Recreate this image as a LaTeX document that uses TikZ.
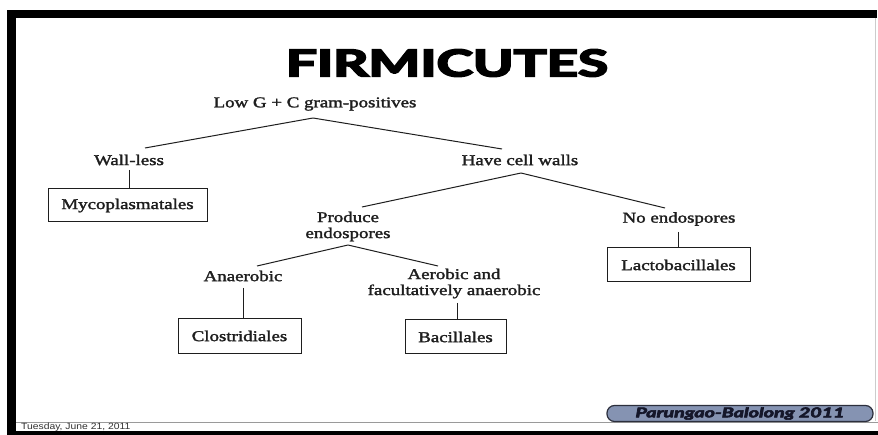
\documentclass[tikz,border=0pt]{standalone}
\usepackage{fontspec}
\usepackage{graphicx}
\setmainfont{Liberation Serif}
\newfontfamily\titlefont{Lato}
\newfontfamily\datefont{Liberation Sans}
\definecolor{inkc}{HTML}{1E1E1E}
\definecolor{pillfill}{HTML}{8593B2}
\definecolor{pilldraw}{HTML}{2C2F3C}
\definecolor{pilltext}{HTML}{15172A}
\definecolor{footline}{HTML}{9A9A9A}
\newcommand{\heavy}[2]{\special{pdf:literal direct 2 Tr #1 w}#2\special{pdf:literal direct 0 Tr}}
\newcommand{\sx}[1]{\scalebox{1.26}[1]{\heavy{0.25}{#1}}}
\tikzset{
  lbl/.style={inner sep=0pt, text=inkc, font=\fontsize{15}{15}\selectfont, align=center},
  taxbox/.style={draw=inkc, line width=1pt, inner sep=0pt, text=inkc,
     font=\fontsize{15}{15}\selectfont},
  branch/.style={draw=inkc, line width=1pt}
}
\begin{document}
\begin{tikzpicture}[x=1pt,y=-1pt]
\useasboundingbox (0,0) rectangle (878,435);
\fill[white] (0,0) rectangle (878,435);
% frame
\fill[black] (7,10) rectangle (877,18);
\fill[black] (7,10) rectangle (16,435);
\fill[black] (7,431) rectangle (878,435);
\draw[footline, line width=1pt] (16,422) -- (878,422);
\draw[black!20, line width=0.6pt] (875,18) -- (875,421);
% title
\node (title) at (447,63) {\resizebox{322pt}{27pt}{\titlefont\bfseries\heavy{0.45}{FIRMICUTES}}};
% labels
\node[lbl] (low) at (315,104) {\sx{Low G + C gram-positives}};
\node[lbl] (wall) at (129,160) {\sx{Wall-less}};
\node[lbl] (have) at (520,160) {\sx{Have cell walls}};
\node[lbl] (prod) at (348,226.5) {\sx{Produce}\\[1pt]\sx{endospores}};
\node[lbl] (noendo) at (679,219) {\sx{No endospores}};
\node[lbl] (anaer) at (243,276) {\sx{Anaerobic}};
\node[lbl] (aer) at (454,283.5) {\sx{Aerobic and}\\[1pt]\sx{facultatively anaerobic}};
% boxes
\node[taxbox, minimum width=159pt, minimum height=33pt] (myco) at (127.5,205.5) {\sx{Mycoplasmatales}};
\node[taxbox, minimum width=143pt, minimum height=34pt] (lacto) at (678.5,265) {\sx{Lactobacillales}};
\node[taxbox, minimum width=123pt, minimum height=35pt] (clos) at (239.5,336) {\sx{Clostridiales}};
\node[taxbox, minimum width=101pt, minimum height=34pt] (baci) at (455.5,337) {\sx{Bacillales}};
% connector end points
\coordinate (lowB) at (313,118);
\coordinate (wallT) at (145,148);
\coordinate (haveT) at (502,149);
\coordinate (haveB) at (521,173);
\coordinate (prodT) at (362,207);
\coordinate (noT) at (665,208);
\coordinate (prodB) at (348,245);
\coordinate (anT) at (257,266);
\coordinate (aerT) at (438,266);
\coordinate (wallB) at (129,170);
\coordinate (noB) at (678,232);
\coordinate (anB) at (243,288);
\coordinate (aerB) at (457,303);
% connectors
\draw[branch] (lowB) -- (wallT);
\draw[branch] (lowB) -- (haveT);
\draw[branch] (haveB) -- (prodT);
\draw[branch] (haveB) -- (noT);
\draw[branch] (prodB) -- (anT);
\draw[branch] (prodB) -- (aerT);
\draw[branch] (wallB) -- (wallB |- myco.north);
\draw[branch] (noB) -- (noB |- lacto.north);
\draw[branch] (anB) -- (anB |- clos.north);
\draw[branch] (aerB) -- (aerB |- baci.north);
% footer
\node[anchor=west, inner sep=0pt, text=black!80, font=\datefont\fontsize{9}{9}\selectfont] (date) at (21,427) {\scalebox{1.15}[1]{Tuesday, June 21, 2011}};
\node[draw=pilldraw, fill=pillfill, line width=1.2pt, rounded corners=7.5pt,
      minimum width=266pt, minimum height=16pt, inner sep=0pt] (pill) at (740,413.5) {};
\node[inner sep=0pt, text=pilltext] (pilltxt) at (pill.center) {\resizebox{209pt}{10pt}{\titlefont\bfseries\itshape\heavy{0.4}{Parungao-Balolong 2011}}};
\end{tikzpicture}
\end{document}
